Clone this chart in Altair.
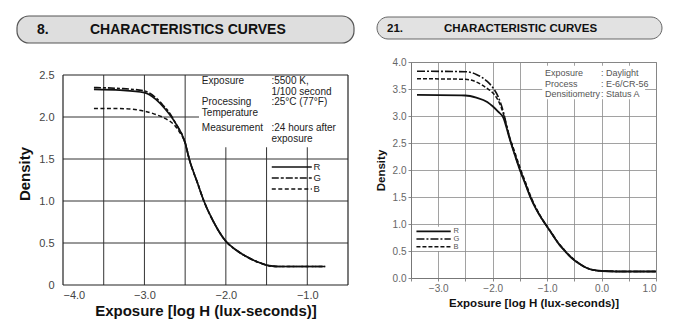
import altair as alt
import pandas as pd

# ---------------- data: left panel ("8. CHARACTERISTICS CURVES") ----------------
left_x_R = [-3.62, -3.3, -3.0, -2.86, -2.74, -2.62, -2.5, -2.45, -2.35, -2.27, -2.15, -2.0, -1.88, -1.77, -1.6, -1.47, -1.35, -0.78]
left_d_R = [2.33, 2.32, 2.29, 2.21, 2.09, 1.93, 1.69, 1.50, 1.22, 1.00, 0.75, 0.52, 0.42, 0.35, 0.27, 0.23, 0.22, 0.22]
left_x_G = [-3.62, -3.3, -3.0, -2.86, -2.78, -2.7, -2.62, -2.5, -2.45, -2.35, -2.27, -2.15, -2.0, -1.88, -1.77, -1.6, -1.47, -1.35, -0.78]
left_d_G = [2.35, 2.34, 2.31, 2.23, 2.15, 2.06, 1.93, 1.69, 1.50, 1.22, 1.00, 0.75, 0.52, 0.42, 0.35, 0.27, 0.23, 0.22, 0.22]
left_x_B = [-3.62, -3.3, -3.0, -2.86, -2.74, -2.62, -2.55, -2.5, -2.45, -2.35, -2.27, -2.15, -2.0, -1.88, -1.77, -1.6, -1.47, -1.35, -0.78]
left_d_B = [2.10, 2.10, 2.07, 2.03, 1.98, 1.89, 1.79, 1.70, 1.50, 1.22, 1.00, 0.75, 0.52, 0.42, 0.35, 0.27, 0.23, 0.22, 0.22]

left_xticks = [-4.0, -3.0, -2.0, -1.0]
left_yticks = [0, 0.5, 1.0, 1.5, 2.0, 2.5]
left_vgrid = [-3.5, -3.0, -2.5, -2.0, -1.5, -1.0]
left_hgrid = [0.5, 1.0, 1.5, 2.0]

left_note_keys = ["Exposure", "Processing", "Temperature", "Measurement"]
left_note_key_y = [2.423, 2.173, 2.042, 1.875]
left_note_vals = [":5500 K,", " 1/100 second", ":25°C (77°F)", ":24 hours after", " exposure"]
left_note_val_y = [2.423, 2.292, 2.173, 1.875, 1.744]
left_legend_names = ["R", "G", "B"]
left_legend_y = [1.405, 1.274, 1.143]

left_header_num = "8."
left_header_title = "CHARACTERISTICS  CURVES"

# ---------------- data: right panel ("21. CHARACTERISTIC CURVES") ----------------
right_x = [-3.39, -2.5, -2.3, -2.1, -2.0, -1.9, -1.8, -1.75, -1.7, -1.6, -1.5, -1.4, -1.3, -1.2, -1.1, -1.0,
           -0.9, -0.8, -0.7, -0.6, -0.5, -0.4, -0.3, -0.2, -0.1, 0.0, 0.5, 1.0]
right_d_R = [3.39, 3.38, 3.34, 3.26, 3.18, 3.08, 2.96, 2.80, 2.62, 2.30, 2.00, 1.74, 1.48, 1.27, 1.10, 0.95,
             0.80, 0.65, 0.53, 0.42, 0.33, 0.26, 0.20, 0.16, 0.14, 0.13, 0.12, 0.12]
right_d_G = [3.83, 3.82, 3.77, 3.64, 3.53, 3.36, 3.06, 2.85, 2.64, 2.31, 2.01, 1.75, 1.49, 1.28, 1.10, 0.95,
             0.80, 0.65, 0.53, 0.42, 0.33, 0.26, 0.20, 0.16, 0.14, 0.13, 0.12, 0.12]
right_d_B = [3.69, 3.68, 3.63, 3.51, 3.43, 3.29, 3.03, 2.84, 2.65, 2.35, 2.05, 1.78, 1.51, 1.29, 1.11, 0.96,
             0.81, 0.66, 0.54, 0.43, 0.34, 0.26, 0.20, 0.16, 0.14, 0.13, 0.12, 0.12]

right_xticks = [-3.5, -3.0, -2.5, -2.0, -1.5, -1.0, -0.5, 0.0, 0.5, 1.0]
right_yticks = [0.0, 0.5, 1.0, 1.5, 2.0, 2.5, 3.0, 3.5, 4.0]

right_note_keys = ["Exposure", "Process", "Densitiometry"]
right_note_vals = [": Daylight", ": E-6/CR-56", ": Status A"]
right_note_y = [3.80, 3.60, 3.40]
right_legend_names = ["R", "G", "B"]
right_legend_y = [0.865, 0.722, 0.579]

right_header_num = "21."
right_header_title = "CHARACTERISTIC CURVES"

FONT = "Liberation Sans"

# ================= LEFT PANEL =================
LX_DOM = [-4.0, -0.5]
LY_DOM = [0, 2.655]


def LX(f="x"):
    return alt.X(f"{f}:Q", scale=alt.Scale(domain=LX_DOM, nice=False, zero=False),
                 axis=alt.Axis(values=left_xticks, format=".1f", grid=False, domain=False, ticks=False,
                               labelFont=FONT, labelFontSize=11, labelColor="#444", labelPadding=4,
                               title="Exposure [log H (lux-seconds)]", titleFont=FONT, titleFontSize=15,
                               titleFontWeight="bold", titleColor="#111", titlePadding=3))


def LY(f="y"):
    return alt.Y(f"{f}:Q", scale=alt.Scale(domain=LY_DOM, nice=False),
                 axis=alt.Axis(values=left_yticks,
                               labelExpr="datum.value == 0 ? '0' : format(datum.value, '.1f')",
                               grid=False, domain=False, ticks=False, labelFont=FONT, labelFontSize=11,
                               labelColor="#444", labelPadding=9, title="Density", titleFont=FONT,
                               titleFontSize=15, titleFontWeight="bold", titleColor="#111", titlePadding=6))


def line_df(xs, ys):
    return pd.DataFrame({"x": xs, "y": ys, "o": list(range(len(xs)))})


# grid rules
lgrid = pd.DataFrame(
    [{"x": v, "x2": v, "y": 0.0, "y2": 2.5} for v in left_vgrid]
    + [{"x": LX_DOM[0], "x2": LX_DOM[1], "y": v, "y2": v} for v in left_hgrid]
)
lframe = pd.DataFrame([
    {"x": -4.0, "x2": -0.5, "y": 0.0, "y2": 0.0},
    {"x": -4.0, "x2": -0.5, "y": 2.5, "y2": 2.5},
    {"x": -4.0, "x2": -4.0, "y": 0.0, "y2": 2.5},
    {"x": -0.5, "x2": -0.5, "y": 0.0, "y2": 2.5},
])

l_grid = alt.Chart(lgrid).mark_rule(color="#333", strokeWidth=1).encode(
    x=LX("x"), x2="x2:Q", y=LY("y"), y2="y2:Q")
l_white = alt.Chart(pd.DataFrame({"x": [-2.33], "x2": [-0.5], "y": [1.64], "y2": [2.5]})).mark_rect(
    color="white").encode(x=LX("x"), x2="x2:Q", y=LY("y"), y2="y2:Q")
l_frame = alt.Chart(lframe).mark_rule(color="#222", strokeWidth=1.2).encode(
    x=LX("x"), x2="x2:Q", y=LY("y"), y2="y2:Q")

l_R = alt.Chart(line_df(left_x_R, left_d_R)).mark_line(color="#111", strokeWidth=1.7, interpolate="monotone").encode(
    x=LX("x"), y=LY("y"), order="o:Q")
l_G = alt.Chart(line_df(left_x_G, left_d_G)).mark_line(color="#111", strokeWidth=1.6, interpolate="monotone",
                                                        strokeDash=[7, 2, 3, 2]).encode(x=LX("x"), y=LY("y"), order="o:Q")
l_B = alt.Chart(line_df(left_x_B, left_d_B)).mark_line(color="#111", strokeWidth=1.5, interpolate="monotone",
                                                        strokeDash=[4, 2.5]).encode(x=LX("x"), y=LY("y"), order="o:Q")

l_keys = alt.Chart(pd.DataFrame({"x": [-2.295] * 4, "y": left_note_key_y, "t": left_note_keys})).mark_text(
    align="left", baseline="middle", font=FONT, fontSize=10, color="#222").encode(x=LX("x"), y=LY("y"), text="t:N")
l_vals = alt.Chart(pd.DataFrame({"x": [-1.44] * 5, "y": left_note_val_y, "t": left_note_vals})).mark_text(
    align="left", baseline="middle", font=FONT, fontSize=10, color="#222").encode(x=LX("x"), y=LY("y"), text="t:N")

l_leg_df = pd.DataFrame({"x": [-1.436] * 3, "x2": [-0.945] * 3, "y": left_legend_y, "n": left_legend_names})
l_leg_R = alt.Chart(l_leg_df[l_leg_df.n == "R"]).mark_rule(color="#111", strokeWidth=1.7).encode(
    x=LX("x"), x2="x2:Q", y=LY("y"))
l_leg_G = alt.Chart(l_leg_df[l_leg_df.n == "G"]).mark_rule(color="#111", strokeWidth=1.6, strokeDash=[7, 2, 3, 2]).encode(
    x=LX("x"), x2="x2:Q", y=LY("y"))
l_leg_B = alt.Chart(l_leg_df[l_leg_df.n == "B"]).mark_rule(color="#111", strokeWidth=1.5, strokeDash=[4, 2.5]).encode(
    x=LX("x"), x2="x2:Q", y=LY("y"))
l_leg_t = alt.Chart(pd.DataFrame({"x": [-0.925] * 3, "y": left_legend_y, "t": left_legend_names})).mark_text(
    align="left", baseline="middle", font=FONT, fontSize=9.5, color="#222").encode(x=LX("x"), y=LY("y"), text="t:N")

l_hdr_bar = alt.Chart(pd.DataFrame({"t": [left_header_title]})).mark_rect(
    fill="#dedede", stroke="#555", strokeWidth=1.2, cornerRadius=12).encode(
    x=alt.value(-46), x2=alt.value(291), y=alt.value(-46), y2=alt.value(-19))
l_hdr_num = alt.Chart(pd.DataFrame({"t": [left_header_num]})).mark_text(
    align="left", baseline="middle", font=FONT, fontSize=14, fontWeight="bold", color="#111").encode(
    x=alt.value(-26), y=alt.value(-32), text="t:N")
l_hdr_tit = alt.Chart(pd.DataFrame({"t": [left_header_title]})).mark_text(
    align="left", baseline="middle", font=FONT, fontSize=14, fontWeight="bold", color="#111").encode(
    x=alt.value(27), y=alt.value(-32), text="t:N")

left = alt.layer(l_hdr_bar, l_hdr_num, l_hdr_tit, l_grid, l_white, l_frame, l_B, l_G, l_R,
                 l_keys, l_vals, l_leg_R, l_leg_G, l_leg_B, l_leg_t).properties(
    width=285, height=223, view=alt.ViewBackground(stroke="transparent"))

# ================= RIGHT PANEL =================
RX_DOM = [-3.5, 1.0]
RY_DOM = [0.0, 4.0]
GRAY = "#8a8a8a"


def RX(f="x"):
    return alt.X(f"{f}:Q", scale=alt.Scale(domain=RX_DOM, nice=False, zero=False),
                 axis=alt.Axis(values=right_xticks,
                               labelExpr="datum.value % 1 == 0 ? format(datum.value, '.1f') : ''",
                               grid=True, gridColor=GRAY, gridWidth=0.8, domainColor="#777", domainWidth=1,
                               tickColor=GRAY, tickSize=3, labelFont=FONT, labelFontSize=10, labelColor="#666",
                               labelPadding=2, title="Exposure [log H (lux-seconds)]", titleFont=FONT,
                               titleFontSize=11.5, titleFontWeight="bold", titleColor="#111", titlePadding=4))


def RY(f="y"):
    return alt.Y(f"{f}:Q", scale=alt.Scale(domain=RY_DOM, nice=False),
                 axis=alt.Axis(values=right_yticks, format=".1f", grid=True, gridColor=GRAY, gridWidth=0.8,
                               domainColor="#777", domainWidth=1, tickColor=GRAY, tickSize=3, labelFont=FONT,
                               labelFontSize=10, labelColor="#666", labelPadding=2, title="Density",
                               titleFont=FONT, titleFontSize=11.5, titleFontWeight="bold", titleColor="#111",
                               titlePadding=6))


r_white = alt.Chart(pd.DataFrame({"x": [-1.09, -3.48], "x2": [0.8, -2.55], "y": [3.31, 0.50], "y2": [3.93, 0.95]})).mark_rect(
    color="white").encode(x=RX("x"), x2="x2:Q", y=RY("y"), y2="y2:Q")

r_R = alt.Chart(line_df(right_x, right_d_R)).mark_line(color="#111", strokeWidth=1.8, interpolate="monotone").encode(
    x=RX("x"), y=RY("y"), order="o:Q")
r_G = alt.Chart(line_df(right_x, right_d_G)).mark_line(color="#111", strokeWidth=1.6, interpolate="monotone",
                                                       strokeDash=[8, 2, 2, 2]).encode(x=RX("x"), y=RY("y"), order="o:Q")
r_B = alt.Chart(line_df(right_x, right_d_B)).mark_line(color="#111", strokeWidth=1.5, interpolate="monotone",
                                                       strokeDash=[4, 2]).encode(x=RX("x"), y=RY("y"), order="o:Q")

r_keys = alt.Chart(pd.DataFrame({"x": [-1.04] * 3, "y": right_note_y, "t": right_note_keys})).mark_text(
    align="left", baseline="middle", font=FONT, fontSize=9, color="#555").encode(x=RX("x"), y=RY("y"), text="t:N")
r_vals = alt.Chart(pd.DataFrame({"x": [-0.01] * 3, "y": right_note_y, "t": right_note_vals})).mark_text(
    align="left", baseline="middle", font=FONT, fontSize=9, color="#555").encode(x=RX("x"), y=RY("y"), text="t:N")

r_leg_df = pd.DataFrame({"x": [-3.40] * 3, "x2": [-2.77] * 3, "y": right_legend_y, "n": right_legend_names})
r_leg_R = alt.Chart(r_leg_df[r_leg_df.n == "R"]).mark_rule(color="#111", strokeWidth=1.8).encode(
    x=RX("x"), x2="x2:Q", y=RY("y"))
r_leg_G = alt.Chart(r_leg_df[r_leg_df.n == "G"]).mark_rule(color="#111", strokeWidth=1.6, strokeDash=[8, 2, 2, 2]).encode(
    x=RX("x"), x2="x2:Q", y=RY("y"))
r_leg_B = alt.Chart(r_leg_df[r_leg_df.n == "B"]).mark_rule(color="#111", strokeWidth=1.5, strokeDash=[4, 2]).encode(
    x=RX("x"), x2="x2:Q", y=RY("y"))
r_leg_t = alt.Chart(pd.DataFrame({"x": [-2.72] * 3, "y": right_legend_y, "t": right_legend_names})).mark_text(
    align="left", baseline="middle", font=FONT, fontSize=7.5, color="#555").encode(x=RX("x"), y=RY("y"), text="t:N")

r_hdr_bar = alt.Chart(pd.DataFrame({"t": [right_header_title]})).mark_rect(
    fill="#e2e2e2", stroke="#666", strokeWidth=1, cornerRadius=11).encode(
    x=alt.value(-34), x2=alt.value(251), y=alt.value(-45), y2=alt.value(-23))
r_hdr_num = alt.Chart(pd.DataFrame({"t": [right_header_num]})).mark_text(
    align="left", baseline="middle", font=FONT, fontSize=11.5, fontWeight="bold", color="#111").encode(
    x=alt.value(-24), y=alt.value(-33), text="t:N")
r_hdr_tit = alt.Chart(pd.DataFrame({"t": [right_header_title]})).mark_text(
    align="left", baseline="middle", font=FONT, fontSize=11.5, fontWeight="bold", color="#111").encode(
    x=alt.value(33), y=alt.value(-33), text="t:N")

right = alt.layer(r_hdr_bar, r_hdr_num, r_hdr_tit, r_white, r_B, r_G, r_R, r_keys, r_vals,
                  r_leg_R, r_leg_G, r_leg_B, r_leg_t).properties(
    width=245, height=216, view=alt.ViewBackground(stroke="#777", strokeWidth=1))

chart = alt.hconcat(left, right, spacing=63, bounds="flush").properties(
    padding={"left": 15, "top": 14, "right": 5, "bottom": 5},
    background="white",
)

chart.save("out.html", embed_options={"renderer": "svg", "actions": False})
